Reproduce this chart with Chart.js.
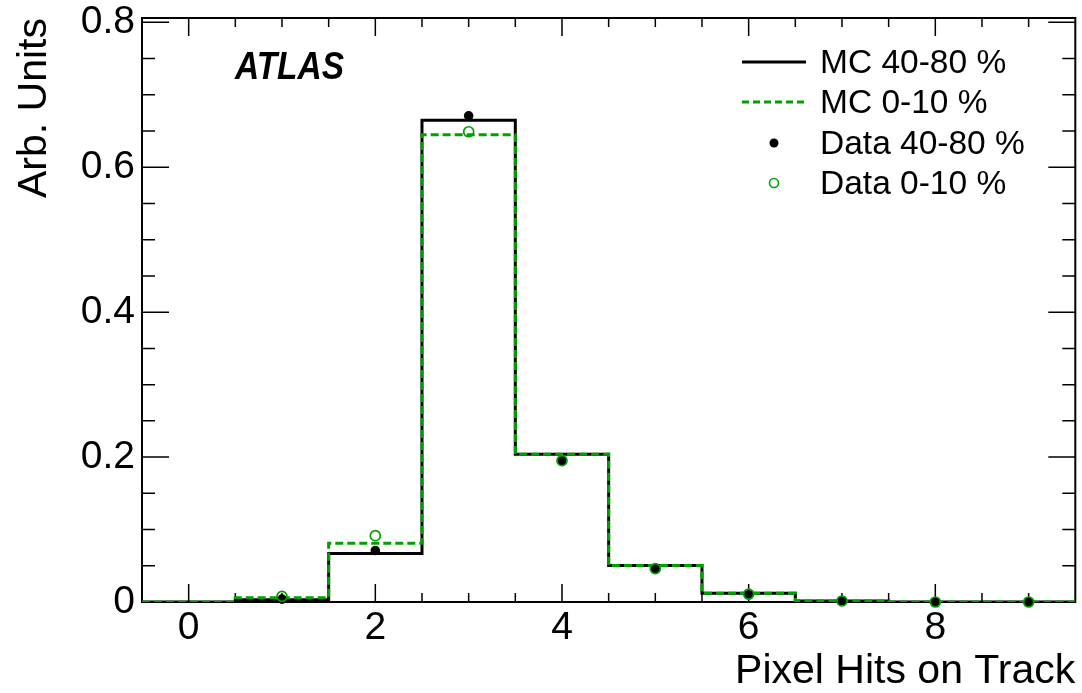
<!DOCTYPE html>
<html>
<head>
<meta charset="utf-8">
<script src="https://cdn.jsdelivr.net/npm/chart.js@4/dist/chart.umd.min.js"></script>
<style>
  html, body { margin: 0; padding: 0; background: #fff; }
  #wrap { width: 1082px; height: 693px; }
</style>
</head>
<body>
<div id="wrap"><canvas id="hits"></canvas></div>
<script>
// number of pixel hits per track, bin centres
const bins = [0, 1, 2, 3, 4, 5, 6, 7, 8, 9];

// simulation, peripheral (40-80 %) and central (0-10 %)
const mcPeripheral = [0, 0.003, 0.067, 0.665, 0.204, 0.0505, 0.012, 0.0015, 0, 0];
const mcCentral = [0, 0.006, 0.081, 0.645, 0.204, 0.0505, 0.012, 0.0015, 0, 0];

// measured, same centrality classes (no entry in the first bin)
const dataPeripheral = [null, 0.004, 0.071, 0.671, 0.195, 0.0455, 0.010, 0.0014, 0, 0];
const dataCentral = [null, 0.0077, 0.0915, 0.649, 0.195, 0.046, 0.011, 0.0014, 0, 0];

const xTicks = [0, 2, 4, 6, 8];
const xTickLabels = ['0', '2', '4', '6', '8'];
const yTicks = [0, 0.2, 0.4, 0.6, 0.8];
const yTickLabels = ['0', '0.2', '0.4', '0.6', '0.8'];
const legendLabels = ['MC 40-80 %', 'MC 0-10 %', 'Data 40-80 %', 'Data 0-10 %'];

const GREEN = '#00a000';
const FONT = "'Liberation Sans', Arial, Helvetica, sans-serif";
Chart.defaults.font.family = FONT;
Chart.defaults.color = '#000';

// histogram outline: one point per lower bin edge plus the last upper edge
function steps(values) {
  const pts = bins.map((b, i) => ({ x: b - 0.5, y: values[i] }));
  pts.push({ x: bins[bins.length - 1] + 0.5, y: values[values.length - 1] });
  return pts;
}

function points(values) {
  return bins.map((b, i) => ({ x: b, y: values[i] }));
}

function lookup(list, labels) {
  return (v) => {
    const i = list.findIndex((t) => Math.abs(t - v) < 1e-6);
    return i >= 0 ? labels[i] : '';
  };
}

// box around the plot with inward ticks on all four sides
const frame = {
  id: 'frame',
  beforeDatasetsDraw(chart) {
    const { ctx, chartArea: a, scales: { x, y } } = chart;
    ctx.save();
    ctx.strokeStyle = '#000';
    ctx.lineWidth = 1.5;
    ctx.beginPath();
    for (let k = 0; k < 19; k++) {
      const px = x.getPixelForValue(k * 0.5);
      const len = k % 4 === 0 ? 18 : 9;
      ctx.moveTo(px, a.bottom); ctx.lineTo(px, a.bottom - len);
      ctx.moveTo(px, a.top); ctx.lineTo(px, a.top + len);
    }
    for (let k = 1; k <= 16; k++) {
      const py = y.getPixelForValue(k * 0.05);
      const len = k % 4 === 0 ? 27 : 13;
      ctx.moveTo(a.left, py); ctx.lineTo(a.left + len, py);
      ctx.moveTo(a.right, py); ctx.lineTo(a.right - len, py);
    }
    ctx.stroke();
    ctx.lineWidth = 2;
    ctx.strokeRect(a.left, a.top, a.right - a.left, a.bottom - a.top);
    ctx.restore();
  }
};

const decorations = {
  id: 'decorations',
  afterDraw(chart) {
    const { ctx } = chart;
    ctx.save();

    // experiment label
    ctx.fillStyle = '#000';
    ctx.font = `italic bold 38px ${FONT}`;
    ctx.textBaseline = 'alphabetic';
    ctx.translate(235, 79);
    ctx.scale(0.88, 1);
    ctx.fillText('ATLAS', 0, 0);
    ctx.setTransform(1, 0, 0, 1, 0, 0);

    // legend
    const rows = [62, 102, 143, 183];
    const x0 = 742, x1 = 806, xm = 774, tx = 820;
    ctx.font = `33.5px ${FONT}`;
    ctx.textBaseline = 'middle';
    rows.forEach((ry, i) => {
      ctx.fillStyle = '#000';
      ctx.fillText(legendLabels[i], tx, ry + 2);
    });

    ctx.lineWidth = 3;
    ctx.strokeStyle = '#000';
    ctx.beginPath(); ctx.moveTo(x0, rows[0]); ctx.lineTo(x1, rows[0]); ctx.stroke();

    ctx.strokeStyle = GREEN;
    ctx.setLineDash([7, 4]);
    ctx.beginPath(); ctx.moveTo(x0, rows[1]); ctx.lineTo(x1, rows[1]); ctx.stroke();
    ctx.setLineDash([]);

    ctx.fillStyle = '#000';
    ctx.beginPath(); ctx.arc(xm, rows[2], 4.5, 0, Math.PI * 2); ctx.fill();

    ctx.lineWidth = 1.6;
    ctx.strokeStyle = GREEN;
    ctx.beginPath(); ctx.arc(xm, rows[3], 4.5, 0, Math.PI * 2); ctx.stroke();

    ctx.restore();
  }
};

new Chart(document.getElementById('hits'), {
  type: 'line',
  data: {
    datasets: [
      {
        label: legendLabels[0],
        data: steps(mcPeripheral),
        stepped: 'before',
        borderColor: '#000',
        borderWidth: 3,
        pointRadius: 0,
        fill: false,
        order: 4
      },
      {
        label: legendLabels[1],
        data: steps(mcCentral),
        stepped: 'before',
        borderColor: GREEN,
        borderWidth: 3,
        borderDash: [8, 4],
        pointRadius: 0,
        fill: false,
        order: 3
      },
      {
        label: legendLabels[2],
        data: points(dataPeripheral),
        showLine: false,
        pointRadius: 4.8,
        pointBackgroundColor: '#000',
        pointBorderColor: '#000',
        pointBorderWidth: 0,
        clip: false,
        order: 2
      },
      {
        label: legendLabels[3],
        data: points(dataCentral),
        showLine: false,
        pointRadius: 5,
        pointBackgroundColor: 'rgba(0,0,0,0)',
        pointBorderColor: GREEN,
        pointBorderWidth: 1.7,
        clip: false,
        order: 1
      }
    ]
  },
  options: {
    responsive: true,
    maintainAspectRatio: false,
    animation: false,
    layout: { padding: { top: 18, right: 5, left: 0, bottom: 0 } },
    plugins: {
      legend: { display: false },
      tooltip: { enabled: false }
    },
    scales: {
      x: {
        type: 'linear',
        min: -0.5,
        max: 9.5,
        grid: { display: false, drawTicks: false },
        border: { display: false },
        afterBuildTicks(s) { s.ticks = xTicks.map((v) => ({ value: v })); },
        ticks: {
          autoSkip: false,
          maxRotation: 0,
          padding: 3,
          font: { size: 39 },
          color: '#000',
          callback: lookup(xTicks, xTickLabels)
        },
        title: {
          display: true,
          text: 'Pixel Hits on Track',
          align: 'end',
          color: '#000',
          font: { size: 41, lineHeight: 1 },
          padding: { top: 0, bottom: 1 }
        },
        afterFit(s) {
          s.height = 91;
          s.paddingLeft = 0;
          s.paddingRight = 0;
        }
      },
      y: {
        type: 'linear',
        min: 0,
        max: 0.806,
        grid: { display: false, drawTicks: false },
        border: { display: false },
        afterBuildTicks(s) { s.ticks = yTicks.map((v) => ({ value: v })); },
        ticks: {
          autoSkip: false,
          padding: 7,
          font: { size: 39 },
          color: '#000',
          callback: lookup(yTicks, yTickLabels)
        },
        title: {
          display: true,
          text: 'Arb. Units',
          align: 'end',
          color: '#000',
          font: { size: 41, lineHeight: 1 },
          padding: { top: 14, bottom: 0 }
        },
        afterFit(s) {
          s.width = 142;
          s.paddingTop = 0;
          s.paddingBottom = 0;
        }
      }
    }
  },
  plugins: [frame, decorations]
});
</script>
</body>
</html>
